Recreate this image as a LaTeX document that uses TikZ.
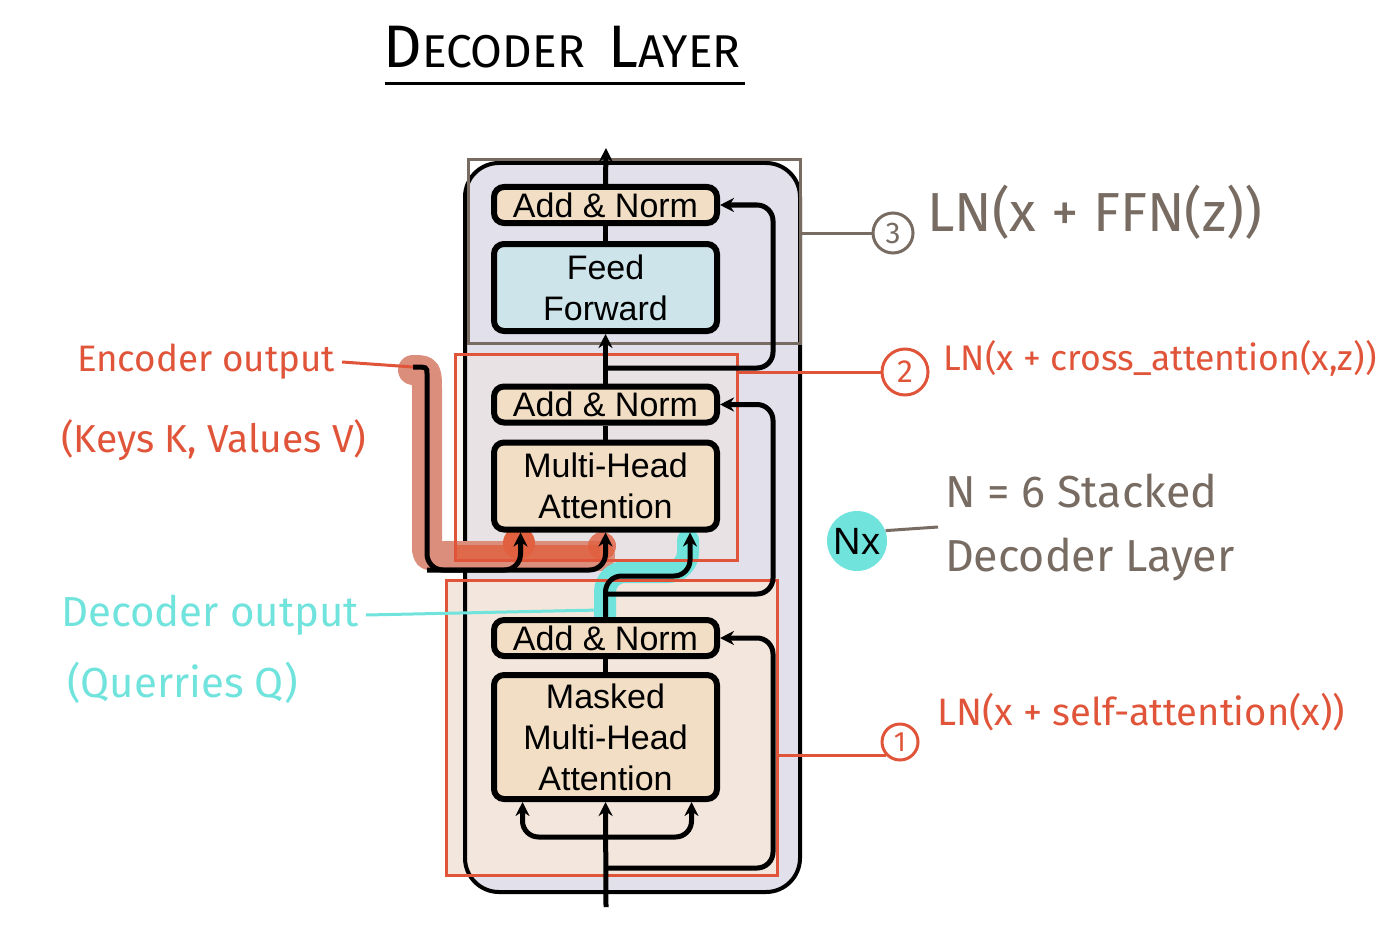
\documentclass[tikz,border=0pt]{standalone}
\usepackage{fontspec}
\setmainfont{Liberation Sans}
\newfontfamily\hand{Fira Sans}
\usetikzlibrary{arrows.meta,calc}
\definecolor{ora}{HTML}{E0553A}
\definecolor{dora}{HTML}{E0603F}
\definecolor{gry}{HTML}{776B62}
\definecolor{cya}{HTML}{6FE3DC}
\definecolor{sal}{HTML}{DB8E7C}
\definecolor{lav}{HTML}{E2E0EA}
\definecolor{peach}{HTML}{F2DEC4}
\definecolor{ffc}{HTML}{CDE5EA}
\definecolor{lpeach}{HTML}{F3E6DD}
\begin{document}
\begin{tikzpicture}[x=0.5pt,y=-0.5pt,
  box/.style={draw=black, line width=3pt, rounded corners=5pt, fill=peach, minimum width=111.5pt, inner sep=0pt, align=center, font=\fontsize{17}{20.5}\selectfont},
  wire/.style={line width=2.5pt, draw=black, rounded corners=8pt},
  arr/.style={wire, -{Stealth[length=7pt,width=7pt]}},
  hw/.style={font=\hand\fontsize{#1}{#1}\selectfont},
  blk/.style={line width=1.5pt, inner sep=0pt, outer sep=0pt},
  circ/.style={circle, draw, line width=1.5pt, inner sep=0pt}
]
\useasboundingbox (0,0) rectangle (1400,941);

% title
\node[font=\hand\fontsize{30}{30}\selectfont] (title) at (562,47) {D{\fontsize{23}{23}\selectfont ECODER}\hspace{12pt}L{\fontsize{23}{23}\selectfont AYER}};
\coordinate (ul1) at (385,84);
\coordinate (ul2) at (745,84);
\draw[line width=1.5pt] (ul1) -- (ul2);

% backgrounds
\fill[lav, rounded corners=17pt] (465,163) rectangle (800,892);
\fill[lpeach] (446,580) rectangle (777,875);
\fill[lpeach, fill opacity=0.4] (455,354) rectangle (737,560);
\draw[line width=2pt, rounded corners=17pt] (465,163) rectangle (800,892);

% highlights
\draw[sal, line width=15pt, line cap=round, line join=round] (413,370) .. controls (427,370) .. (427,392) -- (427,545) .. controls (427,556) .. (440,556) -- (600,556);
\draw[dora, line width=8pt, opacity=0.8] (455,553) -- (600,553);
\fill[dora] (519,543) circle (8pt);
\fill[dora, opacity=0.8] (602,546) circle (7pt);
\draw[cya, line width=11pt, line cap=round, rounded corners=10pt] (605,624) |- (688,572) -- (688,540);

% block rectangles
\node[blk, draw=gry, minimum width=166pt, minimum height=91.5pt] (blk3) at (634,251.5) {};
\node[blk, draw=ora, minimum width=141pt, minimum height=103pt] (blk2) at (596,457) {};
\node[blk, draw=ora, minimum width=165.5pt, minimum height=147.5pt] (blk1) at (611.5,727.5) {};

% boxes
\node[box, minimum height=18pt] (an3) at (605.5,205) {Add \& Norm};
\node[box, fill=ffc, minimum height=43.5pt] (ff) at (605.5,287.5) {Feed\\Forward};
\node[box, minimum height=18pt] (an2) at (605.5,404.5) {Add \& Norm};
\node[box, minimum height=43.5pt] (mha) at (605.5,486) {Multi-Head\\Attention};
\node[box, minimum height=18pt] (an1) at (605.5,638) {Add \& Norm};
\node[box, minimum height=62pt] (mmha) at (605.5,737) {Masked\\Multi-Head\\Attention};

% coordinates
\coordinate (top) at (606,148);
\coordinate (bot) at (606,907);
\coordinate (b1) at (606,837);
\coordinate (r1) at (606,868);
\coordinate (r2) at (606,594);
\coordinate (r3) at (606,368);
\coordinate (qc) at (690,576);
\coordinate (enc) at (413,367);
\coordinate (kv) at (427,570);

% wires
\draw[arr] (bot) -- (mmha.south);
\draw[arr] (b1) -| ($(mmha.south)+(-83,0)$);
\draw[arr] (b1) -| ($(mmha.south)+(86,0)$);
\draw[arr] (r1) -| ($(an1.east)+(53,0)$) -- (an1.east);
\draw[wire] (mmha.north) -- (an1.south);
\draw[arr] (an1.north) |- (qc) -- (qc |- mha.south);
\draw[arr] (r2) -| ($(an2.east)+(53,0)$) -- (an2.east);
\draw[arr] (enc) .. controls (427,367) .. (427,390) [rounded corners=8pt] -- (kv) -| (mha.south);
\draw[arr] (kv) -| ($(mha.south)+(-85,0)$);
\draw[wire] (mha.north) -- (an2.south);
\draw[arr] (an2.north) -- (ff.south);
\draw[arr] (r3) -| ($(an3.east)+(53,0)$) -- (an3.east);
\draw[wire] (ff.north) -- (an3.south);
\draw[arr] (an3.north) -- (top);

% annotations right
\node[circ, draw=gry, text=gry, minimum size=20pt, hw=15] (c3) at (893,233) {3};
\node[anchor=west, text=gry, hw=27.5] (t3) at (920,212) {LN(x + FFN(z))};
\draw[gry, line width=1.5pt] (blk3.east |- c3) -- (c3.west);

\node[circ, draw=ora, text=ora, minimum size=23pt, hw=16] (c2) at (905,372) {2};
\node[anchor=west, text=ora, hw=17.8] (t2) at (936,358) {LN(x + cross\_attention(x,z))};
\draw[ora, line width=1.5pt] (blk2.east |- c2) -- (c2.west);

\node[circ, draw=ora, text=ora, minimum size=18pt, hw=14] (c1) at (900,742) {1};
\node[anchor=west, text=ora, hw=19.1] (t1) at (930,712) {LN(x + self-attention(x))};
\draw[ora, line width=1.5pt] (blk1.east |- c1.south west) -- (c1.south west);

\node[circle, fill=cya, minimum size=30pt, inner sep=0pt, font=\fontsize{19}{19}\selectfont] (nx) at (857,541) {Nx};
\node[anchor=west, text=gry, align=left, font=\hand\fontsize{22.4}{32}\selectfont] (nlab) at (938,527) {N = 6 Stacked\\Decoder Layer};
\draw[gry, line width=1.5pt] (nx.20) -- (nlab.west);

% annotations left
\node[anchor=west, text=ora, hw=18.4] (enc1) at (70,362) {Encoder output};
\node[anchor=west, text=ora, hw=19.5] (enc2) at (54,440) {(Keys K, Values V)};
\draw[ora, line width=1.5pt] (enc1.east) -- (enc);

\node[anchor=west, text=cya, hw=21] (dec1) at (54,615) {Decoder output};
\node[anchor=west, text=cya, hw=21] (dec2) at (60,683) {(Querries Q)};
\coordinate (qhl) at (600,610);
\draw[cya, line width=1.5pt] (dec1.east) -- (qhl);
\end{tikzpicture}
\end{document}
